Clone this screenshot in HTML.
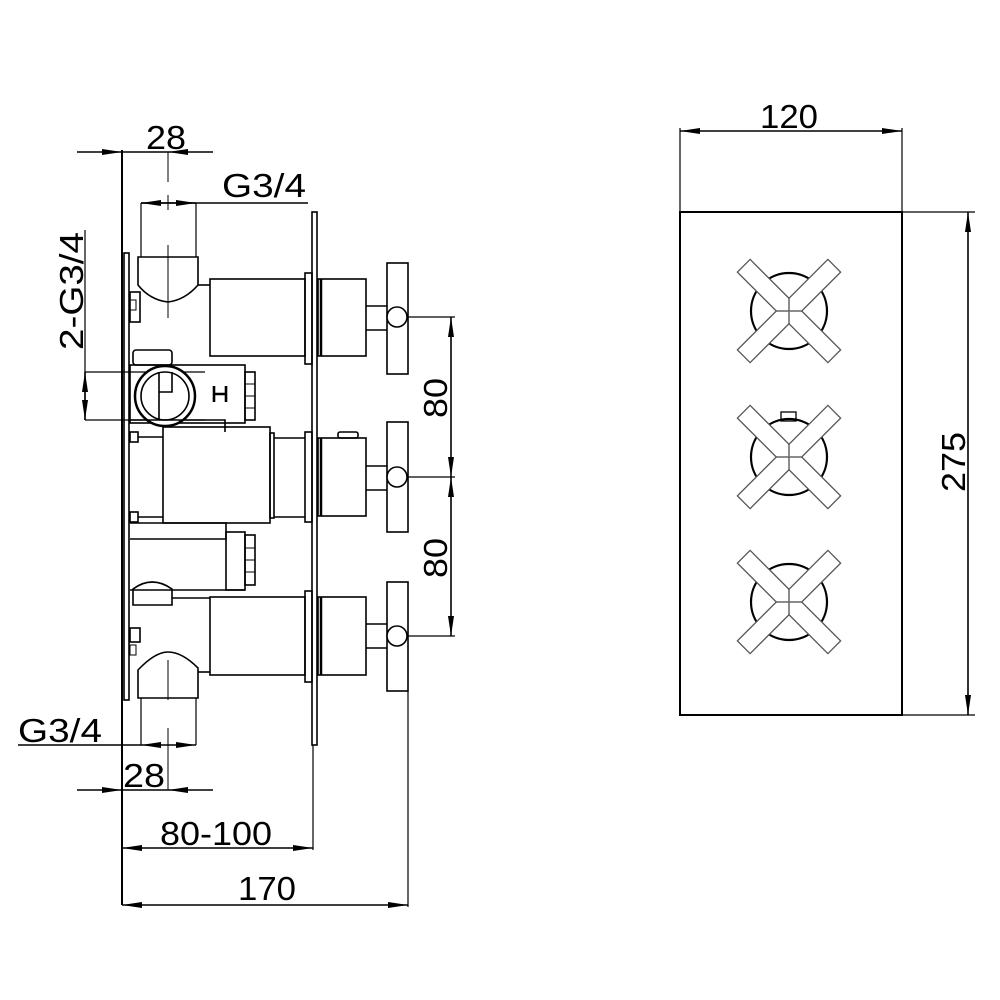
<!DOCTYPE html>
<html><head><meta charset="utf-8"><style>
html,body{margin:0;padding:0;background:#fff;}
svg{display:block;}
text{font-family:"Liberation Sans","DejaVu Sans",sans-serif;fill:#000;}
</style></head><body>
<svg width="1000" height="1000" viewBox="0 0 1000 1000" xmlns="http://www.w3.org/2000/svg">
<defs>
<marker id="a" viewBox="0 0 20 6" refX="20" refY="3" markerWidth="20" markerHeight="6" markerUnits="userSpaceOnUse" orient="auto-start-reverse">
<path d="M0,0 L20,3 L0,6 z" fill="#000"/></marker>
</defs>
<g fill="none" stroke="#000" stroke-width="1.6">
<line x1="122" y1="150" x2="122" y2="905" stroke-width="2"/>
<rect x="124" y="253" width="5" height="447"/>
<rect x="312" y="212" width="5" height="533"/>

<line x1="77" y1="152" x2="122" y2="152" marker-end="url(#a)"/>
<line x1="213" y1="152" x2="168" y2="152" marker-end="url(#a)"/>
<line x1="122" y1="152" x2="168" y2="152"/>
<line x1="168" y1="152" x2="168" y2="182" stroke-width="1"/>
<line x1="141" y1="203" x2="308" y2="203"/>
<line x1="168" y1="203" x2="141" y2="203" marker-end="url(#a)"/>
<line x1="168" y1="203" x2="196" y2="203" marker-end="url(#a)"/>
<line x1="141" y1="203" x2="141" y2="257" stroke-width="1.2"/>
<line x1="196" y1="203" x2="196" y2="257" stroke-width="1.2"/>
<line x1="168" y1="195" x2="168" y2="210" stroke-width="1"/>
<line x1="168" y1="245" x2="168" y2="318" stroke-width="1"/>
<path d="M138,257 H198 V285 Q185,300 168,302 Q150,300 138,285 Z"/>
<line x1="198" y1="285" x2="210" y2="285"/>
<rect x="130" y="292" width="10" height="30"/>
<rect x="130" y="300" width="6" height="10" stroke-width="1"/>
<rect x="210" y="279" width="95" height="77"/>
<rect x="305" y="273" width="7" height="91"/>
<rect x="318" y="279" width="48" height="77"/>
<line x1="321" y1="279" x2="321" y2="356" stroke-width="2.5"/>
<line x1="366" y1="306" x2="387" y2="306"/><line x1="366" y1="330" x2="387" y2="330"/>
<rect x="387" y="263" width="21" height="111"/>
<circle cx="397" cy="317" r="10" fill="#fff"/>
<line x1="408" y1="317" x2="455" y2="317" stroke-width="1.2"/>

<line x1="85" y1="230" x2="85" y2="420" stroke-width="1.2"/>
<line x1="85" y1="372" x2="205" y2="372" stroke-width="1.2"/>
<line x1="85" y1="420" x2="205" y2="420" stroke-width="1.2"/>
<line x1="85" y1="396" x2="85" y2="372" marker-end="url(#a)"/>
<line x1="85" y1="396" x2="85" y2="420" marker-end="url(#a)"/>

<rect x="133" y="350" width="39" height="15" rx="3"/>
<rect x="130" y="365" width="115" height="58"/>
<rect x="245" y="372" width="10" height="48"/>
<line x1="245" y1="384" x2="255" y2="384" stroke-width="1"/><line x1="245" y1="396" x2="255" y2="396" stroke-width="1"/><line x1="245" y1="408" x2="255" y2="408" stroke-width="1"/>
<circle cx="165" cy="396" r="30" fill="#fff" stroke-width="2.5"/>
<circle cx="165" cy="396" r="24"/>
<path d="M159,372 V420 M159,392 H172 V372"/>
<path d="M214,386 V402 M226,386 V402 M214,394 H226" stroke-width="2.6"/>
<path d="M130,420 H225 V432" />
<rect x="163" y="427" width="107" height="96"/>
<rect x="270" y="433" width="4" height="85"/>
<line x1="274" y1="438" x2="305" y2="438"/><line x1="274" y1="517" x2="305" y2="517"/>
<rect x="305" y="432" width="7" height="90"/>
<rect x="318" y="438" width="48" height="78"/>
<line x1="321" y1="438" x2="321" y2="516" stroke-width="2.5"/>
<rect x="338" y="432" width="20" height="6" rx="2"/>
<line x1="366" y1="466" x2="387" y2="466"/><line x1="366" y1="490" x2="387" y2="490"/>
<rect x="387" y="422" width="21" height="110"/>
<circle cx="397" cy="477" r="10" fill="#fff"/>
<line x1="408" y1="477" x2="455" y2="477" stroke-width="1.2"/>
<rect x="130" y="432" width="8" height="10"/><line x1="138" y1="437" x2="163" y2="437"/>
<rect x="130" y="512" width="8" height="10"/><line x1="138" y1="517" x2="163" y2="517"/>
<path d="M130,523 H226 V539 H130"/>
<rect x="226" y="532" width="19" height="58"/>
<line x1="130" y1="590" x2="245" y2="590"/>
<rect x="245" y="535" width="10" height="50"/>
<line x1="245" y1="548" x2="255" y2="548" stroke-width="1"/><line x1="245" y1="560" x2="255" y2="560" stroke-width="1"/><line x1="245" y1="572" x2="255" y2="572" stroke-width="1"/>
<path d="M133,605 V589 Q152,575 172,589 V605 Z"/>
<line x1="172" y1="598" x2="210" y2="598"/>
<rect x="210" y="597" width="95" height="78"/>
<rect x="305" y="591" width="7" height="91"/>
<rect x="318" y="597" width="48" height="78"/>
<line x1="321" y1="597" x2="321" y2="675" stroke-width="2.5"/>
<line x1="366" y1="624" x2="387" y2="624"/><line x1="366" y1="648" x2="387" y2="648"/>
<rect x="387" y="582" width="21" height="109"/>
<circle cx="397" cy="636" r="10" fill="#fff"/>
<line x1="408" y1="636" x2="455" y2="636" stroke-width="1.2"/>
<rect x="130" y="628" width="10" height="14"/>
<rect x="130" y="645" width="6" height="10" stroke-width="1"/>
<path d="M138,698 V670 Q155,652 168,652 Q182,652 198,668 V698 Z"/>
<line x1="198" y1="672" x2="210" y2="672"/>
<line x1="141" y1="698" x2="141" y2="745" stroke-width="1.2"/>
<line x1="196" y1="698" x2="196" y2="745" stroke-width="1.2"/>
<line x1="168" y1="660" x2="168" y2="700" stroke-width="1"/>
<line x1="168" y1="728" x2="168" y2="790" stroke-width="1"/>
<line x1="18" y1="745" x2="141" y2="745"/>
<line x1="168" y1="745" x2="141" y2="745" marker-end="url(#a)"/>
<line x1="168" y1="745" x2="196" y2="745" marker-end="url(#a)"/>
<line x1="77" y1="790" x2="122" y2="790" marker-end="url(#a)"/>
<line x1="213" y1="790" x2="168" y2="790" marker-end="url(#a)"/>
<line x1="122" y1="790" x2="168" y2="790"/>
<line x1="313" y1="745" x2="313" y2="850" stroke-width="1.2"/>
<line x1="218" y1="848" x2="122" y2="848" marker-end="url(#a)"/>
<line x1="218" y1="848" x2="313" y2="848" marker-end="url(#a)"/>
<line x1="408" y1="691" x2="408" y2="907" stroke-width="1.2"/>
<line x1="265" y1="905" x2="122" y2="905" marker-end="url(#a)"/>
<line x1="265" y1="905" x2="408" y2="905" marker-end="url(#a)"/>
<line x1="451" y1="397" x2="451" y2="317" marker-end="url(#a)"/>
<line x1="451" y1="397" x2="451" y2="477" marker-end="url(#a)"/>
<line x1="451" y1="556" x2="451" y2="477" marker-end="url(#a)"/>
<line x1="451" y1="556" x2="451" y2="636" marker-end="url(#a)"/>

<rect x="680" y="212" width="222" height="503" stroke-width="2"/>
<line x1="680" y1="128" x2="680" y2="212" stroke-width="1.2"/>
<line x1="902" y1="128" x2="902" y2="212" stroke-width="1.2"/>
<line x1="791" y1="131" x2="680" y2="131" marker-end="url(#a)"/>
<line x1="791" y1="131" x2="902" y2="131" marker-end="url(#a)"/>
<line x1="902" y1="212" x2="975" y2="212" stroke-width="1.2"/>
<line x1="902" y1="715" x2="975" y2="715" stroke-width="1.2"/>
<line x1="968" y1="463" x2="968" y2="212" marker-end="url(#a)"/>
<line x1="968" y1="463" x2="968" y2="715" marker-end="url(#a)"/>
</g>

<g transform="translate(789,311)">
<circle r="38" fill="none" stroke="#000" stroke-width="2.2"/>
<g stroke="#555" stroke-width="1.3" fill="#fff">
<rect x="-64" y="-9" width="128" height="18" transform="rotate(45)"/>
<rect x="-64" y="-9" width="128" height="18" transform="rotate(-45)"/>
</g>
<g fill="#fff"><rect x="-63" y="-8" width="126" height="16" transform="rotate(45)"/><rect x="-63" y="-8" width="126" height="16" transform="rotate(-45)"/></g>
<path d="M0,-13 V13 M-13,0 H13" stroke="#666" stroke-width="1.5"/>
</g>
<rect x="781" y="412" width="15" height="9" fill="#fff" stroke="#000" stroke-width="1.3"/>
<g transform="translate(789,457)">
<circle r="38" fill="none" stroke="#000" stroke-width="2.2"/>
<g stroke="#555" stroke-width="1.3" fill="#fff">
<rect x="-64" y="-9" width="128" height="18" transform="rotate(45)"/>
<rect x="-64" y="-9" width="128" height="18" transform="rotate(-45)"/>
</g>
<g fill="#fff"><rect x="-63" y="-8" width="126" height="16" transform="rotate(45)"/><rect x="-63" y="-8" width="126" height="16" transform="rotate(-45)"/></g>
<path d="M0,-13 V13 M-13,0 H13" stroke="#666" stroke-width="1.5"/>
</g>
<g transform="translate(789,602)">
<circle r="38" fill="none" stroke="#000" stroke-width="2.2"/>
<g stroke="#555" stroke-width="1.3" fill="#fff">
<rect x="-64" y="-9" width="128" height="18" transform="rotate(45)"/>
<rect x="-64" y="-9" width="128" height="18" transform="rotate(-45)"/>
</g>
<g fill="#fff"><rect x="-63" y="-8" width="126" height="16" transform="rotate(45)"/><rect x="-63" y="-8" width="126" height="16" transform="rotate(-45)"/></g>
<path d="M0,-13 V13 M-13,0 H13" stroke="#666" stroke-width="1.5"/>
</g>

<text x="146" y="149" font-size="33" textLength="40" lengthAdjust="spacingAndGlyphs">28</text>
<text x="222" y="197" font-size="33" textLength="84" lengthAdjust="spacingAndGlyphs">G3/4</text>
<text x="18" y="742" font-size="33" textLength="84" lengthAdjust="spacingAndGlyphs">G3/4</text>
<text x="123" y="787" font-size="33" textLength="42" lengthAdjust="spacingAndGlyphs">28</text>
<text x="160" y="845" font-size="33" textLength="112" lengthAdjust="spacingAndGlyphs">80-100</text>
<text x="238" y="900" font-size="33" textLength="58" lengthAdjust="spacingAndGlyphs">170</text>
<text x="760" y="128" font-size="33" textLength="58" lengthAdjust="spacingAndGlyphs">120</text>
<text transform="translate(83,350) rotate(-90)" font-size="33" textLength="118" lengthAdjust="spacingAndGlyphs">2-G3/4</text>
<text transform="translate(447,418) rotate(-90)" font-size="33" textLength="40" lengthAdjust="spacingAndGlyphs">80</text>
<text transform="translate(447,578) rotate(-90)" font-size="33" textLength="40" lengthAdjust="spacingAndGlyphs">80</text>
<text transform="translate(965,492) rotate(-90)" font-size="33" textLength="60" lengthAdjust="spacingAndGlyphs">275</text>
</svg>
</body></html>
